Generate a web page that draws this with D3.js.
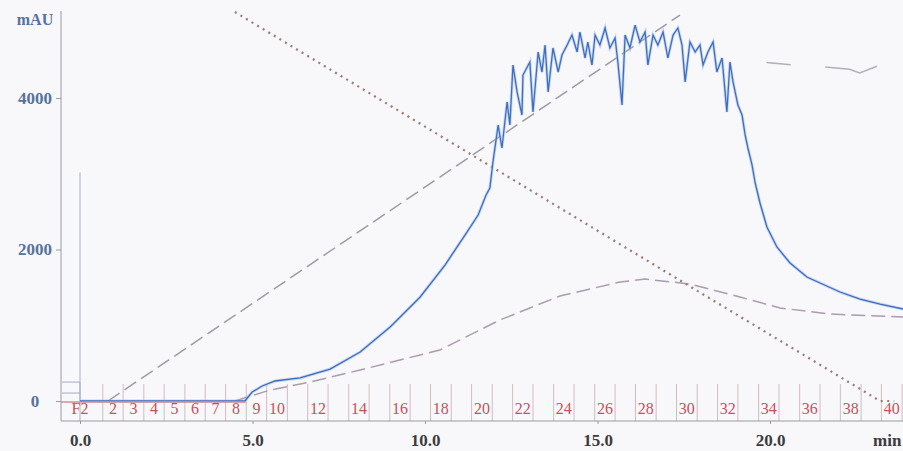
<!DOCTYPE html>
<html>
<head>
<meta charset="utf-8">
<script src="https://cdn.jsdelivr.net/npm/d3@7"></script>
<style>
body { margin: 0; background: #f8f7fa; }
svg { display: block; }
</style>
</head>
<body>
<script>
// time in min, signal in mAU
var uvTrace = [[0,0],[4.78,0],[4.99,119],[5.28,198],[5.65,264],[6.38,304],[7.25,422],
  [8.12,647],[8.99,977],[9.86,1373],[10.58,1795],[11.16,2191],[11.54,2455],[11.77,2719],[11.88,2812],
  [11.97,3155],[12.12,3643],[12.23,3340],[12.38,3947],[12.46,3643],[12.55,4435],[12.67,4079],[12.81,3775],
  [12.84,4303],[13.04,4475],[13.13,3815],[13.28,4607],[13.39,4343],[13.48,4699],[13.57,4079],[13.71,4660],
  [13.86,4343],[13.97,4567],[14.12,4699],[14.26,4831],[14.41,4607],[14.49,4871],[14.64,4528],[14.72,4739],
  [14.84,4435],[14.93,4831],[15.07,4699],[15.22,4924],[15.36,4660],[15.51,4792],[15.59,4475],[15.71,3907],
  [15.80,4831],[15.94,4660],[16.09,4963],[16.23,4739],[16.38,4871],[16.46,4435],[16.61,4831],[16.75,4699],
  [16.90,4871],[17.04,4528],[17.19,4831],[17.33,4924],[17.45,4699],[17.54,4211],[17.68,4739],[17.83,4607],
  [17.97,4699],[18.06,4435],[18.20,4607],[18.35,4739],[18.46,4343],[18.61,4528],[18.75,3815],[18.84,4475],
  [18.93,4211],[19.07,3907],[19.19,3775],[19.28,3511],[19.36,3340],[19.48,3115],[19.57,2878],[19.71,2614],
  [19.91,2297],[20.20,2033],[20.58,1822],[21.07,1637],[21.45,1558],[22.03,1439],[22.61,1346],[23.19,1280],
  [23.86,1214]];
var preInject = [[-0.52,250],[0,250],[0,0]];
var preInject2 = [[-0.52,105],[0,105]];
var gradientB = [[0.81,0],[17.39,5095]];               // long dash, rising
var dottedTrace = [[4.49,5135],[23.19,0],[23.6,0]];     // dotted, falling
var bellTrace = [[4.49,0],[5.51,145],[6.67,251],[8.12,409],[10.43,673],[12.17,1069],[13.91,1386],
  [15.65,1571],[16.38,1610],[17.68,1544],[19.13,1373],[20.29,1228],[21.74,1148],[23.86,1109]];
var faintA = [[19.9,4470],[20.6,4440]];
var faintB = [[21.6,4410],[22.3,4380],[22.6,4330],[23.1,4420]];
var injectMark = [0, 3020];

var xTicks = [0, 5, 10, 15, 20];
var yTicks = [0, 2000, 4000];

// fraction collector: start times and names
var fracStarts = [0.66,1.25,1.85,2.44,3.04,3.63,4.22,4.82,5.41,6.01,6.60,7.19,7.79,8.38,8.98,9.57,
  10.16,10.76,11.35,11.95,12.54,13.13,13.73,14.32,14.92,15.51,16.10,16.70,17.29,17.89,18.48,19.07,
  19.67,20.26,20.86,21.45,22.04,22.64,23.23,23.83];
var fracNames = ["2","3","4","5","6","7","8","9","10","","12","","14","","16","","18","","20","",
  "22","","24","","26","","28","","30","","32","","34","","36","","38","","40"];

var width = 903;
var height = 451;

var x = d3.scaleLinear().domain([0, 20]).range([80, 770]);
var y = d3.scaleLinear().domain([0, 4000]).range([401, 98]);

var svg = d3.select("body")
  .append("svg")
  .attr("width", width)
  .attr("height", height);

svg.append("rect")
  .attr("width", width)
  .attr("height", height)
  .attr("fill", "#f8f7fa");

svg.append("defs").append("clipPath")
  .attr("id", "plot")
  .append("rect")
  .attr("x", 61).attr("y", 11)
  .attr("width", width - 61).attr("height", 410);

var line = d3.line()
  .x(function(d) { return x(d[0]); })
  .y(function(d) { return y(d[1]); });

var plot = svg.append("g").attr("clip-path", "url(#plot)");

// fraction marks
plot.selectAll(".frac")
  .data(fracStarts)
  .enter()
  .append("line")
  .attr("x1", function(d) { return x(d); })
  .attr("x2", function(d) { return x(d); })
  .attr("y1", 384)
  .attr("y2", 421)
  .attr("stroke", "#d2bcc3")
  .attr("stroke-width", 1);

// injection mark
plot.append("line")
  .attr("x1", x(injectMark[0])).attr("x2", x(injectMark[0]))
  .attr("y1", y(injectMark[1])).attr("y2", 421)
  .attr("stroke", "#aab2c8")
  .attr("stroke-width", 1);

// curves
plot.append("path")
  .datum(gradientB)
  .attr("d", line)
  .attr("fill", "none")
  .attr("stroke", "#9c9ca6")
  .attr("stroke-width", 1.5)
  .attr("stroke-dasharray", "14,6");

plot.append("path")
  .datum(bellTrace)
  .attr("d", line)
  .attr("fill", "none")
  .attr("stroke", "#ab9caf")
  .attr("stroke-width", 1.5)
  .attr("stroke-dasharray", "14,6");

plot.append("path")
  .datum(dottedTrace)
  .attr("d", line)
  .attr("fill", "none")
  .attr("stroke", "#977b72")
  .attr("stroke-width", 2.2)
  .attr("stroke-dasharray", "2,4.5");

[faintA, faintB].forEach(function(seg) {
  plot.append("path")
    .datum(seg)
    .attr("d", line)
    .attr("fill", "none")
    .attr("stroke", "#b0b0ba")
    .attr("stroke-width", 1.5);
});

[preInject, preInject2].forEach(function(seg) {
  plot.append("path")
    .datum(seg)
    .attr("d", line)
    .attr("fill", "none")
    .attr("stroke", "#a4adc2")
    .attr("stroke-width", 1);
});

// blurred look of the printed trace
plot.append("path")
  .datum(uvTrace)
  .attr("d", line)
  .attr("fill", "none")
  .attr("stroke", "#a9c0e6")
  .attr("stroke-width", 3)
  .attr("stroke-opacity", 0.6);

plot.append("path")
  .datum(uvTrace)
  .attr("d", line)
  .attr("fill", "none")
  .attr("stroke", "#3d6fbf")
  .attr("stroke-width", 1.3);

// red fraction baseline drawn over the flat part
plot.append("line")
  .attr("x1", 61).attr("x2", x(4.8))
  .attr("y1", y(0) + 1).attr("y2", y(0) + 1)
  .attr("stroke", "#d98a93")
  .attr("stroke-width", 1.3);

plot.selectAll(".fracLabel")
  .data(fracNames)
  .enter()
  .append("text")
  .attr("x", function(d, i) { return (x(fracStarts[i]) + x(fracStarts[i + 1])) / 2; })
  .attr("y", 414)
  .attr("text-anchor", "middle")
  .style("font-family", "'Liberation Serif', serif")
  .style("font-size", "16px")
  .style("fill", "#c8505a")
  .text(function(d) { return d; });

plot.append("text")
  .attr("x", x(0)).attr("y", 414)
  .attr("text-anchor", "middle")
  .style("font-family", "'Liberation Serif', serif")
  .style("font-size", "16px")
  .style("fill", "#c8505a")
  .text("F2");

// axes
svg.append("line")
  .attr("x1", 61).attr("x2", 61)
  .attr("y1", 11).attr("y2", 421)
  .attr("stroke", "#9a9aa6");

svg.append("line")
  .attr("x1", 61).attr("x2", width)
  .attr("y1", 421).attr("y2", 421)
  .attr("stroke", "#9a9aa6");

var yAxis = svg.append("g")
  .attr("transform", "translate(61,0)")
  .call(d3.axisLeft(y).tickValues(yTicks).tickSize(5).tickFormat(d3.format("d")));
yAxis.select(".domain").remove();
yAxis.selectAll("line").attr("stroke", "#9a9aa6");
yAxis.selectAll("text")
  .attr("x", -26)
  .attr("text-anchor", "middle")
  .style("font-family", "'Liberation Serif', serif")
  .style("font-size", "17px")
  .style("font-weight", "bold")
  .style("fill", "#56739c");

var xAxis = svg.append("g")
  .attr("transform", "translate(0,421)")
  .call(d3.axisBottom(x).tickValues(xTicks).tickSize(3).tickFormat(d3.format(".1f")));
xAxis.select(".domain").remove();
xAxis.selectAll("line").attr("stroke", "#9a9aa6");
xAxis.selectAll("text")
  .attr("y", 25)
  .attr("dy", null)
  .style("font-family", "'Liberation Serif', serif")
  .style("font-size", "17px")
  .style("font-weight", "bold")
  .style("fill", "#3c3c40");

svg.append("text")
  .attr("x", 35).attr("y", 25)
  .attr("text-anchor", "middle")
  .style("font-family", "'Liberation Serif', serif")
  .style("font-size", "16px")
  .style("font-weight", "bold")
  .style("fill", "#56739c")
  .text("mAU");

svg.append("text")
  .attr("x", 873).attr("y", 446)
  .style("font-family", "'Liberation Serif', serif")
  .style("font-size", "17px")
  .style("font-weight", "bold")
  .style("fill", "#3c3c40")
  .text("min");
</script>
</body>
</html>
